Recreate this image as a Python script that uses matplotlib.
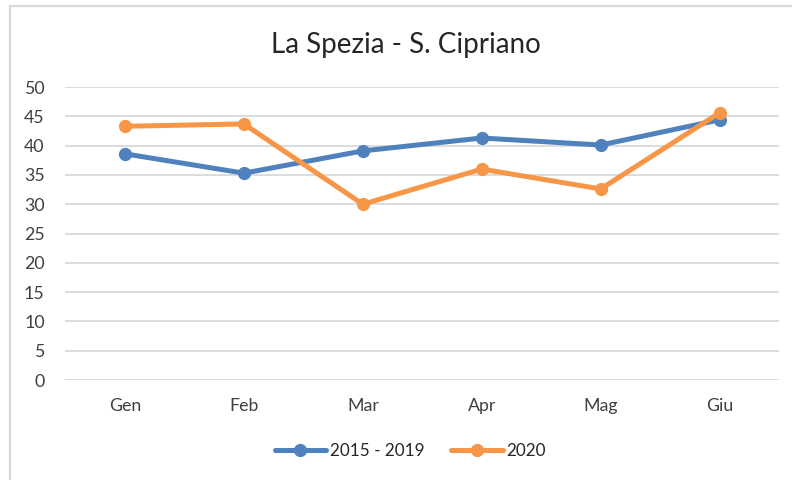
import matplotlib
matplotlib.use("Agg")
import matplotlib.pyplot as plt
from matplotlib.patches import Rectangle

# ── data ──────────────────────────────────────────────────────────────────────
months = ["Gen", "Feb", "Mar", "Apr", "Mag", "Giu"]
media_2015_2019 = [38.6, 35.3, 39.1, 41.3, 40.1, 44.4]
valori_2020 = [43.3, 43.7, 30.0, 36.0, 32.6, 45.6]
y_ticks = [0, 5, 10, 15, 20, 25, 30, 35, 40, 45, 50]

BLUE = "#4f81bd"
ORANGE = "#f79646"
plt.rcParams["font.family"] = ["Lato", "DejaVu Sans"]

fig = plt.figure(figsize=(7.92, 4.8), dpi=100)
ax = fig.add_axes([0.0827, 0.2083, 0.901, 0.6104])

x = range(len(months))
ax.plot(x, media_2015_2019, color=BLUE, lw=3.6, marker="o", ms=8.5,
        label="2015 - 2019", solid_capstyle="round")
ax.plot(x, valori_2020, color=ORANGE, lw=3.6, marker="o", ms=8.5,
        label="2020", solid_capstyle="round")

ax.set_xlim(-0.5, len(months) - 0.5)
ax.set_ylim(0, 50)
ax.set_yticks(y_ticks)
ax.set_xticks(list(x))
ax.set_xticklabels(months)
ax.tick_params(length=0, labelsize=12.8, colors="#404040", pad=13)
ax.tick_params(axis="y", pad=15)
ax.grid(axis="y", color="#d9d9d9", lw=1.3)
ax.set_axisbelow(True)
for s in ax.spines.values():
    s.set_visible(False)

fig.text(0.513, 0.907, "La Spezia - S. Cipriano", ha="center", va="center",
         fontsize=20, color="#262626")

fig.legend(loc="center", bbox_to_anchor=(0.518, 0.06), ncol=2, frameon=False,
           fontsize=12.3, handlelength=3.0, columnspacing=1.6, handletextpad=0.2,
           labelcolor="#262626")

# outer chart border (cropped at the right and bottom of the image)
fig.patches.append(Rectangle((9.5 / 792, -0.1), 1.2, 1.1 - 5.5 / 480,
                             transform=fig.transFigure, fill=False,
                             edgecolor="#d9d9d9", lw=1.6, clip_on=False))

fig.savefig("out.png", dpi=100)
